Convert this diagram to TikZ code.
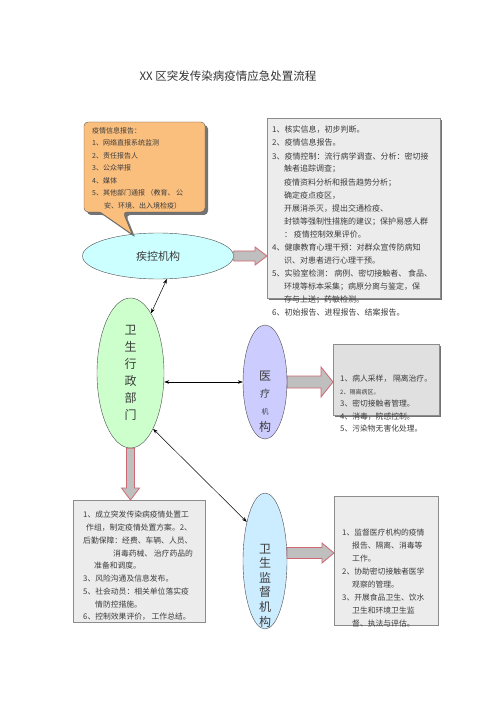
\documentclass[tikz,border=0pt]{standalone}
\usepackage{fontspec}
\newfontfamily\cjk{Noto Sans CJK SC}
\usetikzlibrary{positioning,shapes.geometric,shadows,arrows.meta,calc}

\definecolor{infoorange}{RGB}{250,190,125}
\definecolor{boxgray}{RGB}{236,236,236}
\definecolor{jkcyan}{RGB}{204,255,255}
\definecolor{wzgreen}{RGB}{204,255,204}
\definecolor{ylviolet}{RGB}{204,204,255}
\definecolor{jdblue}{RGB}{204,236,255}
\definecolor{arrowred}{RGB}{205,105,115}
\definecolor{txtgray}{RGB}{60,60,60}

\begin{document}
\begin{tikzpicture}[x=1pt, y=-1pt,
        org/.style={ellipse, draw=black!70, inner sep=0pt, text=txtgray, font=\cjk\fontsize{11}{13}\selectfont},
        panel/.style={rectangle, draw=black!45, fill=boxgray, anchor=north west, inner sep=0pt},
        shade/.style={drop shadow={shadow xshift=1.5pt, shadow yshift=-1.5pt, fill=black!55, opacity=1}},
        list/.style={inner sep=0pt, align=left, text=txtgray, font=\cjk\fontsize{7.8}{12.8}\selectfont},
        vtext/.style={inner sep=0pt, align=center, text=txtgray},
        bigarrow/.style={draw=arrowred, fill=black!25, line width=0.8pt},
        link/.style={<->, >={Stealth[length=5pt,width=3.5pt]}, line width=0.5pt}
    ]
    \useasboundingbox (0,0) rectangle (500,708);

    \node[text=black!80, font=\cjk\fontsize{11.5}{14}\selectfont] (title) at (228,76) {XX 区突发传染病疫情应急处置流程};

    % organisations
    \node[org, fill=jkcyan, minimum width=151pt, minimum height=46pt] (jk) at (158,256) {疾控机构};
    \node[org, fill=wzgreen, minimum width=67pt, minimum height=150pt, align=center,
          font=\cjk\fontsize{12}{17}\selectfont] (wz) at (130.5,373) {卫\\生\\行\\政\\部\\门};
    \node[org, fill=ylviolet, minimum width=44pt, minimum height=114pt] (yl) at (265,382) {};
    \node[vtext, yshift=-20pt, font=\cjk\fontsize{12}{17}\selectfont] (ylt) at (yl)
        {医\\{\fontsize{10}{17}\selectfont 疗}\\{\fontsize{7}{17}\selectfont 机}\\构};
    \node[org, fill=jdblue, minimum width=44pt, minimum height=136pt] (jd) at (265,561) {};
    \node[vtext, yshift=-24.5pt, font=\cjk\fontsize{12}{14.6}\selectfont] (jdt) at (jd)
        {卫\\生\\监\\督\\机\\构};

    % information sources (callout)
    \coordinate (info) at (84,122);
    \filldraw[draw=black!65, fill=infoorange, rounded corners=4pt,
          drop shadow={shadow xshift=3pt, shadow yshift=-3pt, fill=black!55, opacity=1}]
        (info) -- (205,122) -- (205,212) -- (123,212) [rounded corners=1pt] -- (jk.140)
        -- (100,212) [rounded corners=4pt] -- (84,212) -- cycle;
    \node[list, font=\cjk\fontsize{7}{12.5}\selectfont, below right=5pt and 8pt of info] (infot)
        {疫情信息报告：\\
         1、网络直报系统监测\\
         2、责任报告人\\
         3、公众举报\\
         4、媒体\\
         5、其他部门通报 （教育、 公\\
         \hspace*{12pt}安、环境、出入境检疫）};

    % task lists
    \node[panel, shade, minimum width=173pt, minimum height=180pt] (box1) at (267,118) {};
    \node[list, font=\cjk\fontsize{8}{13}\selectfont, below right=8pt and 5pt of box1.north west] (box1t)
        {1、核实信息，初步判断。\\
         2、疫情信息报告。\\
         3、疫情控制：流行病学调查、分析：密切接\\
         \hspace*{12pt}触者追踪调查；\\
         \hspace*{12pt}疫情资料分析和报告趋势分析；\\
         \hspace*{12pt}确定疫点疫区，\\
         \hspace*{12pt}开展消杀灭，提出交通检疫、\\
         \hspace*{12pt}封锁等强制性措施的建议；保护易感人群\\
         \hspace*{12pt}： 疫情控制效果评价。\\
         4、健康教育心理干预：对群众宣传防病知\\
         \hspace*{12pt}识、对患者进行心理干预。\\
         5、实验室检测： 病例、密切接触者、 食品、\\
         \hspace*{12pt}环境等标本采集；病原分离与鉴定，保\\
         \hspace*{12pt}存与上送；药敏检测。\\
         6、初始报告、进程报告、结案报告。};

    \node[panel, shade, fill=black!12, minimum width=106pt, minimum height=71pt] (box2) at (333,344) {};
    \node[list, font=\cjk\fontsize{7.8}{12.5}\selectfont, below right=31pt and 7pt of box2.north west] (box2t)
        {1、病人采样， 隔离治疗。\\
         {\fontsize{6}{12.5}\selectfont 2、隔离病区。}\\
         3、密切接触者管理。\\
         4、消毒，院感控制。\\
         5、污染物无害化处理。};

    \node[panel, minimum width=132pt, minimum height=122pt] (box3) at (73,500) {};
    \node[list, font=\cjk\fontsize{7.8}{12.75}\selectfont, below right=11pt and 10pt of box3.north west] (box3t)
        {1、成立突发传染病疫情处置工\\
         \hspace*{3pt}作组，制定疫情处置方案。2、\\
         后勤保障：经费、车辆、人员、\\
         \hspace*{30pt}消毒药械、 治疗药品的\\
         \hspace*{11pt}准备和调度。\\
         3、风险沟通及信息发布。\\
         5、社会动员：相关单位落实疫\\
         \hspace*{12pt}情防控措施。\\
         6、控制效果评价， 工作总结。};

    \node[panel, minimum width=104pt, minimum height=129pt] (box4) at (334,496) {};
    \node[list, font=\cjk\fontsize{7.8}{13}\selectfont, below right=33pt and 8pt of box4.north west] (box4t)
        {1、监督医疗机构的疫情\\
         \hspace*{10pt}报告、隔离、消毒等\\
         \hspace*{10pt}工作。\\
         2、协助密切接触者医学\\
         \hspace*{10pt}观察的管理。\\
         3、开展食品卫生、饮水\\
         \hspace*{10pt}卫生和环境卫生监\\
         \hspace*{10pt}督、执法与评估。};

    % block arrows
    \foreach \src/\dst/\w/\h in {jk.east/box1/5/9, yl.east/box2/6/15, jd.20/box4/5.5/10} {
        \draw[bigarrow] let \p1=(\src), \p2=(\dst.west) in
            (\x1,{\y1+\w*1pt}) -- ({\x2-12pt},{\y1+\w*1pt}) -- ({\x2-12pt},{\y1+\h*1pt}) -- (\x2,\y1)
            -- ({\x2-12pt},{\y1-\h*1pt}) -- ({\x2-12pt},{\y1-\w*1pt}) -- (\x1,{\y1-\w*1pt}) -- cycle;
    }
    \draw[bigarrow] let \p1=(wz.south), \p2=(box3.north) in
        ({\x1-4pt},\y1) -- ({\x1-4pt},{\y2+12pt}) -- ({\x1-9pt},{\y2+12pt}) -- (\x1,\y2)
        -- ({\x1+9pt},{\y2+12pt}) -- ({\x1+4pt},{\y2+12pt}) -- ({\x1+4pt},\y1) -- cycle;

    % links
    \draw[link] (wz.71) -- (jk.291);
    \draw[link] (yl.west -| wz.east) -- (yl.west);
    \draw[link] (wz.-68) -- (jd.115);
\end{tikzpicture}
\end{document}
